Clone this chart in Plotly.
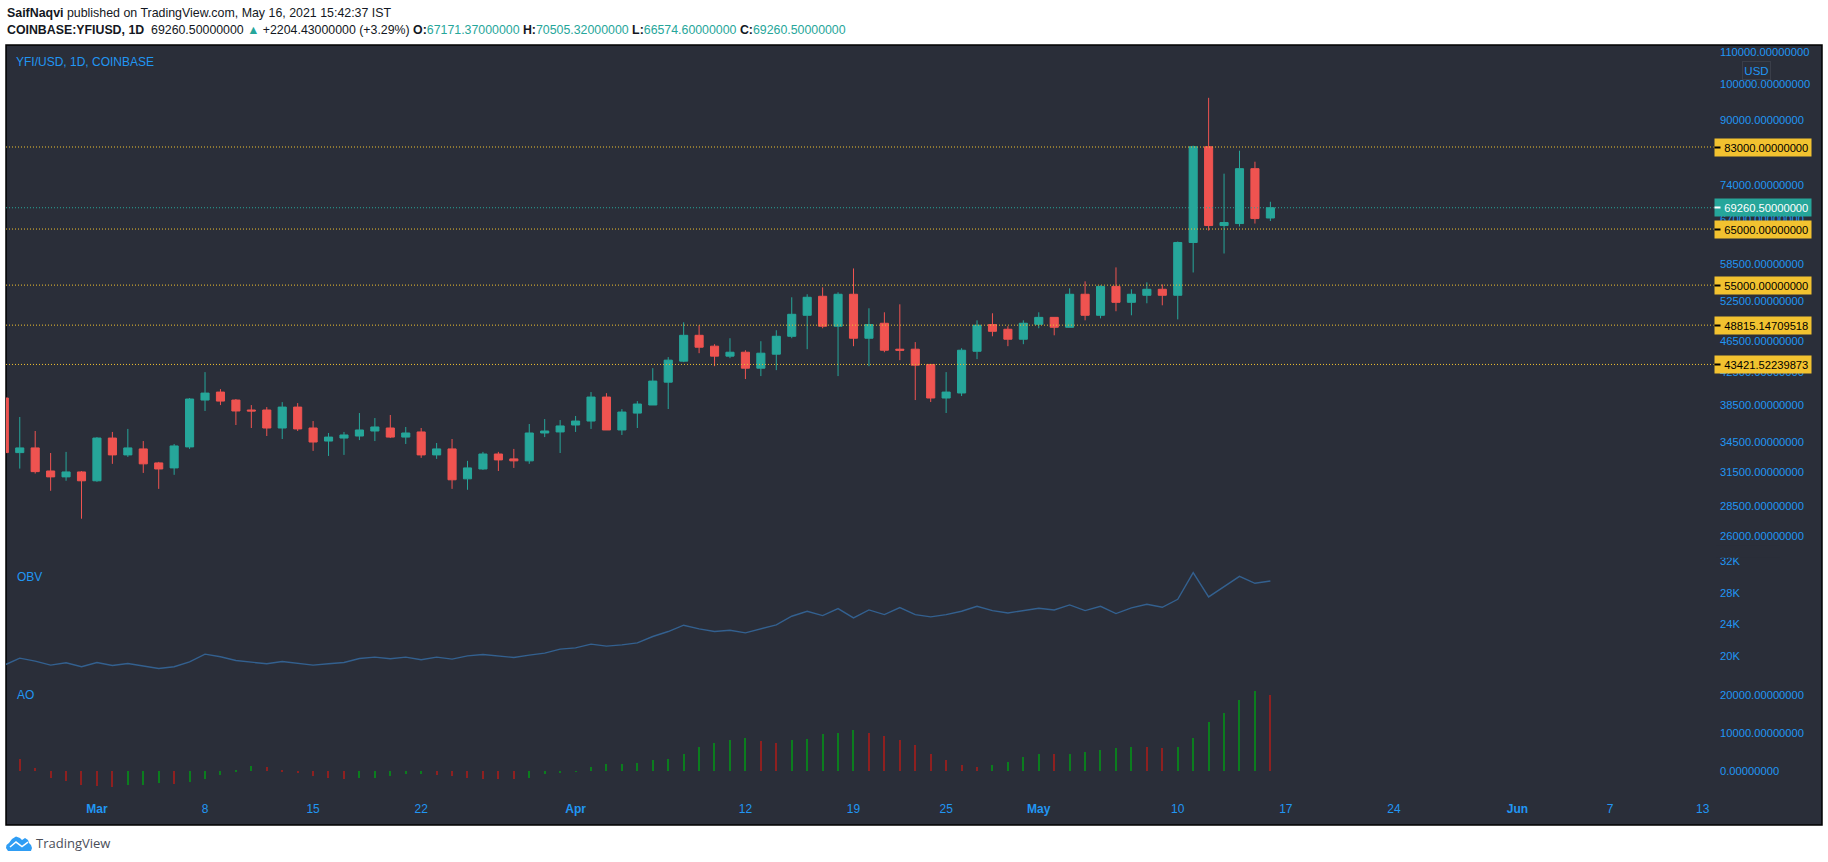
import math
import pandas as pd
import plotly.graph_objects as go

W, H = 1828, 862
FONT = "Liberation Sans, Arial, sans-serif"
BG = "#2a2e39"
BLUE = "#2196f3"
UP = "#26a69a"
DOWN = "#ef5350"
GOLD = "#f2c230"

START_DATE = "2021-02-23"
opens = [39290,33390,33860,31610,31060,31520,30700,34870,33160,33760,32380,31900,33960,39050,39990,39050,37910,37910,35930,38240,35930,34560,34870,35080,35610,35930,34970,35510,33160,33760,30880,31800,33250,32770,32580,35400,35510,36250,36680,
         39400,35720,37560,38480,41190,43850,47360,45850,44510,45030,42940,44770,47220,50270,53200,48660,53520,46950,49090,45440,45440,43420,39290,39880,45160,48900,48220,46810,48940,49960,48510,53520,50270,54790,52250,53360,54320,
         53360,62450,83070,65680,66070,77810,67171.37]
highs = [39500,37130,35610,33350,33460,31610,34970,35510,35830,34560,32480,34260,39290,42440,40340,39170,38470,38240,38810,38700,36680,35400,35510,37570,37010,37350,36040,35930,34360,34770,32580,33460,33460,33760,36360,36900,36790,37240,39990,
         39860,38010,38930,42940,44380,49230,48800,46120,46950,45300,46530,48080,53040,53520,54630,53840,57800,51330,50720,51940,46410,43420,42440,45570,49520,50570,48660,49520,50720,49960,54480,55620,54950,57980,54320,55450,55120,
         62630,83330,96100,76660,82090,79440,70505.32]
lows = [33300,31840,31370,29800,30700,27420,30610,32290,32960,31430,29970,31250,33760,37800,38470,36250,35930,35080,34770,35610,33560,33060,33160,34660,34560,34870,34260,32870,32770,29970,29890,31710,31610,31900,32290,34970,33350,35510,35830,
        35720,35190,35930,38480,38020,43720,44900,43200,44240,41570,41940,42690,46950,45440,48370,41940,45850,43200,45030,43980,39050,38820,37570,39520,44110,47220,45850,46120,48370,47360,48510,49520,49810,50880,50270,52100,51790,
        49660,57110,64710,60430,65490,66070,66574.60]
closes = [33390,33860,31550,31060,31520,30700,34870,33160,33860,32290,31800,34060,39170,39870,38930,37800,37800,35930,38240,35830,34460,34970,35190,35720,36040,34970,35400,33160,33760,30790,31900,33250,32670,32580,35400,35610,36150,36680,39400,
          35720,37680,38590,41320,43980,47360,45710,44510,45030,42940,44900,47220,50420,53040,48660,53520,46950,48900,45300,45300,43330,39290,39990,45300,48800,47930,46810,49090,49960,48510,53520,50270,54790,52250,53520,54320,53360,
          62450,83070,65680,66270,77810,67060,69260.50]

obv = [18916,19791,19416,18916,19208,18708,19250,18875,19125,18833,18500,18708,19333,20291,19958,19500,19291,19083,19375,19166,18916,19083,19250,19750,19916,19708,19916,19583,19916,19666,20083,20250,20083,19875,20166,20416,20916,21083,21541,21291,21458,21700,
       22500,23125,23917,23458,23125,23292,22958,23500,23958,25042,25667,25125,26000,24833,25833,25250,26125,25250,24958,25250,25667,26292,25750,25458,25708,26042,25833,26458,25750,26292,25375,26083,26542,26167,27167,30500,27458,28750,30042,29167,29458]

ao = [None,3030,780,-1900,-2600,-3720,-3980,-4240,-3720,-3640,-3200,-3460,-2860,-2170,-1130,400,1210,950,170,-600,-1390,-1900,-2170,-1900,-1900,-1390,-870,-870,-1130,-1390,-1900,-2170,-2170,-2170,-1900,-870,-600,-100,1130,1730,1730,2000,
      2770,3030,4330,6150,7190,7970,8490,7710,7190,7970,8230,9530,9790,10570,9790,9010,7970,6670,4330,2770,1470,950,1470,2250,3550,4330,4330,4330,4850,5370,5890,6150,6150,5890,6150,8490,12900,15240,18620,20960,19920]
ao_dir = ["x","r","r","r","r","r","r","r","g","g","g","r","g","g","g","g","g","r","r","r","r","r","r","g","g","g","g","g","r","r","r","r","r","r","g","g","g","g","g","g","g","g",
          "g","g","g","g","g","g","g","r","r","g","g","g","g","g","r","r","r","r","r","r","r","r","g","g","g","g","r","g","g","g","g","g","r","r","g","g","g","g","g","g","r"]

price_ticks = [110000,100000,90000,74000,67000,58500,52500,46500,42500,38500,34500,31500,28500,26000]
obv_ticks = [20000,24000,28000,32000]
obv_labels = ["20K","24K","28K","32K"]
ao_ticks = [0,10000,20000]
x_tick_dates = ["2021-03-01","2021-03-08","2021-03-15","2021-03-22","2021-04-01","2021-04-12","2021-04-19","2021-04-25","2021-05-01","2021-05-10","2021-05-17","2021-05-24","2021-06-01","2021-06-07","2021-06-13"]
x_tick_text = ["<b>Mar</b>","8","15","22","<b>Apr</b>","12","19","25","<b>May</b>","10","17","24","<b>Jun</b>","7","13"]
level_values = [83000.0, 65000.0, 55000.0, 48815.14709518, 43421.52239873]
last_price = 69260.50

dates = pd.date_range(START_DATE, periods=len(closes), freq="D")
X_RANGE = ["2021-02-23 02:38", "2021-06-20 19:00"]
LINE_END = "2021-06-13 17:00"

px = lambda x: x / W
py = lambda y: 1 - y / H

fig = go.Figure()
fig.add_trace(go.Candlestick(
    x=dates, open=opens, high=highs, low=lows, close=closes, whiskerwidth=0,
    increasing=dict(line=dict(color=UP, width=1), fillcolor=UP),
    decreasing=dict(line=dict(color=DOWN, width=1), fillcolor=DOWN),
    xaxis="x", yaxis="y", showlegend=False, hoverinfo="skip"))

for v in level_values:
    fig.add_trace(go.Scatter(x=[X_RANGE[0], LINE_END], y=[v, v], mode="lines",
                             line=dict(color=GOLD, width=1, dash="1px,2px"),
                             xaxis="x", yaxis="y", showlegend=False, hoverinfo="skip"))
fig.add_trace(go.Scatter(x=[X_RANGE[0], LINE_END], y=[last_price, last_price], mode="lines",
                         line=dict(color=UP, width=1, dash="1px,2px"),
                         xaxis="x", yaxis="y", showlegend=False, hoverinfo="skip"))

fig.add_trace(go.Scatter(x=dates, y=obv, mode="lines", line=dict(color="#33608f", width=1.4),
                         xaxis="x", yaxis="y2", showlegend=False, hoverinfo="skip"))

fig.add_trace(go.Bar(x=dates, y=ao, width=1.1 / 15.44 * 86400000,
                     marker=dict(color=["#0b7d1e" if c == "g" else "#8e2020" for c in ao_dir], line=dict(width=0)),
                     xaxis="x", yaxis="y3", showlegend=False, hoverinfo="skip"))

LABEL_SIZE = 11.2
tick_font = dict(family=FONT, size=LABEL_SIZE, color=BLUE)
common_y = dict(anchor="free", position=px(1719), side="right", showgrid=False, zeroline=False,
                showline=False, ticks="", tickfont=tick_font, tickmode="array")

fig.update_layout(
    width=W, height=H, autosize=False, margin=dict(l=0, r=0, t=0, b=0),
    paper_bgcolor="white", plot_bgcolor="rgba(0,0,0,0)", bargap=0, boxgap=0.25, showlegend=False,
    xaxis=dict(domain=[px(6), px(1823)], type="date", range=X_RANGE, anchor="y3",
               tickmode="array", tickvals=x_tick_dates, ticktext=x_tick_text,
               tickfont=dict(family=FONT, size=12, color=BLUE),
               showgrid=False, zeroline=False, showline=False, ticks="",
               rangeslider=dict(visible=False)),
    yaxis=dict(domain=[py(556), py(43)], type="log", range=[4.3889, 5.0512],
               tickvals=price_ticks, ticktext=[f"{v:.8f}" for v in price_ticks], **common_y),
    yaxis2=dict(domain=[py(672), py(556)], range=[18000, 32500],
                tickvals=obv_ticks, ticktext=obv_labels, **common_y),
    yaxis3=dict(domain=[py(800), py(672)], range=[-7450, 25790],
                tickvals=ao_ticks, ticktext=[f"{v:.8f}" for v in ao_ticks], **common_y),
)

# frame / background
fig.add_shape(type="rect", xref="paper", yref="paper", x0=px(6), x1=px(1822), y0=py(825), y1=py(43),
              fillcolor=BG, line=dict(color="#000000", width=1.5), layer="below")
# clip of the 32K label by the price pane above
fig.add_shape(type="rect", xref="paper", yref="paper", x0=px(1716), x1=px(1780), y0=py(557), y1=py(545),
              fillcolor=BG, line=dict(width=0), layer="above")

# logo
def path(points):
    return "M" + " L".join(f"{px(x):.5f},{py(y):.5f}" for x, y in points) + " Z"
cloud = [(6,848),(6.5,845),(9,843),(12,839),(16,836.5),(20,838),(22,840),(25,838),(28,840),(29,843),(31,845),(32,848),(31,851),(8,851)]
fig.add_shape(type="path", xref="paper", yref="paper", path=path(cloud), fillcolor="#2f9df4", line=dict(width=0), layer="above")
fig.add_shape(type="path", xref="paper", yref="paper",
              path="M" + " L".join(f"{px(x):.5f},{py(y):.5f}" for x, y in [(10,847),(16,842),(22,846.5),(28,842)]),
              line=dict(color="white", width=1.5), layer="above")

ann = []
def text(x, y, s, size=12, color=BLUE, family=FONT, **kw):
    ann.append(dict(xref="paper", yref="paper", x=px(x), y=py(y), text=s, showarrow=False, xanchor="left",
                    yanchor="middle", font=dict(family=family, size=size, color=color), align="left", **kw))

T = UP
text(5, 11, "<b>SaifNaqvi</b> published on TradingView.com, May 16, 2021 15:42:37 IST", size=12.4, color="#131722")
text(5, 28.5, f"<b>COINBASE:YFIUSD, 1D</b>&nbsp; 69260.50000000 <span style='color:{T}'>▲</span> +2204.43000000 (+3.29%) "
              f"<b>O:</b><span style='color:{T}'>67171.37000000</span> <b>H:</b><span style='color:{T}'>70505.32000000</span> "
              f"<b>L:</b><span style='color:{T}'>66574.60000000</span> <b>C:</b><span style='color:{T}'>69260.50000000</span>",
     size=12.35, color="#131722")
text(14, 60, "YFI/USD, 1D, COINBASE")
text(15, 576, "OBV")
text(15, 695, "AO")
text(34, 843, "TradingView", size=13, color="#4a4e59", family="Open Sans, sans-serif")

ann.append(dict(xref="paper", yref="paper", x=px(1771), y=py(59), text="USD", showarrow=False,
                font=dict(family=FONT, size=11.5, color=BLUE), bgcolor=BG, bordercolor="#3a3e49", borderwidth=1,
                width=27, height=17, borderpad=0))

def box(value, label, fill, fg):
    yv = math.log10(value)
    ann.append(dict(xref="paper", yref="y", x=px(1714), y=yv, text="&nbsp;&nbsp;&nbsp;" + label, showarrow=False,
                    xanchor="left", yanchor="middle", font=dict(family=FONT, size=LABEL_SIZE, color=fg), bgcolor=fill,
                    width=96, height=17, align="left", borderpad=0))
    ann.append(dict(xref="paper", yref="y", x=px(1714), y=yv, text=" ", showarrow=False, xanchor="left",
                    yanchor="middle", bgcolor=fg, width=5, height=1, borderpad=0, font=dict(size=1)))

for v in level_values:
    box(v, f"{v:.8f}", GOLD, "#000000")
box(last_price, f"{last_price:.8f}", UP, "#ffffff")

fig.update_layout(annotations=ann)
fig.write_html("out.html", config=dict(displayModeBar=False),
               post_script="document.body.style.margin='0';document.body.style.overflow='hidden';")
